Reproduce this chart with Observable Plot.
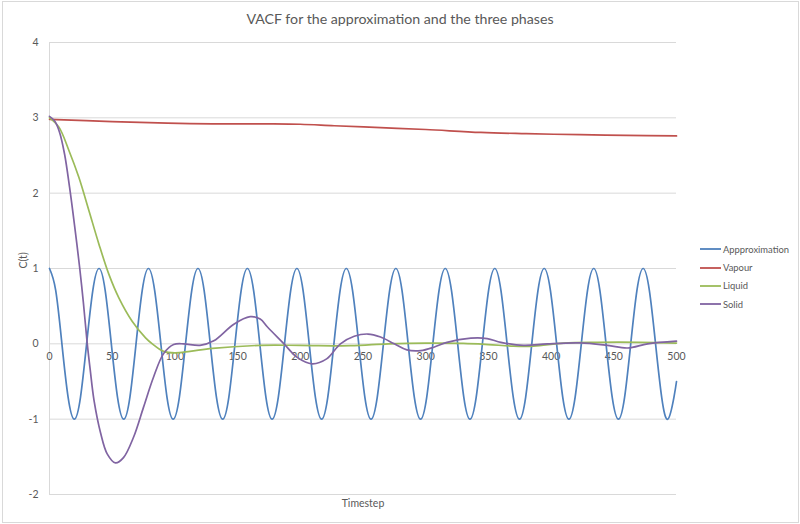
<!DOCTYPE html>
<html>
<head>
<meta charset="utf-8">
<script src="https://cdn.jsdelivr.net/npm/d3@7"></script>
<script src="https://cdn.jsdelivr.net/npm/@observablehq/plot@0.6"></script>
<style>
  html, body { margin: 0; padding: 0; background: #fff; }
  #wrap { position: relative; width: 800px; height: 524px; font-family: Lato, "Open Sans", sans-serif; color: #595959; }
  #border { position: absolute; left: 2px; top: 1px; width: 797px; height: 522px; box-sizing: border-box; border: 1px solid #d9d9d9; pointer-events: none; }
  #title { position: absolute; left: 0; top: 9px; width: 800px; text-align: center; font-size: 14.2px; line-height: 20px; }
  #legend { position: absolute; left: 700px; top: 240px; font-size: 9.4px; }
  #legend .row { height: 18.4px; display: flex; align-items: center; }
  #legend svg { width: 21px; height: 4px; margin-right: 2px; }
</style>
</head>
<body>
<div id="wrap">
  <div id="chart"></div>
  <div id="title">VACF for the approximation and the three phases</div>
  <div id="legend"></div>
  <div id="border"></div>
</div>
<script>
// ---- data ----
const seriesNames = ["Appproximation", "Vapour", "Liquid", "Solid"];
const seriesColors = ["#4F81BD", "#C0504D", "#9BBB59", "#8064A2"];

const xTicks = [0, 50, 100, 150, 200, 250, 300, 350, 400, 450, 500];
const yTicks = [-2, -1, 0, 1, 2, 3, 4];

// Approximation: peaks, troughs, zero crossings and the points half-way between them
const approxT = [
  0, 4.95, 9.9, 14.85, 19.8, 24.7, 29.6, 34.55,
  39.5, 44.4, 49.3, 54.25, 59.2, 64.1, 69, 73.95,
  78.9, 83.85, 88.8, 93.7, 98.6, 103.55, 108.5, 113.45,
  118.4, 123.3, 128.2, 133.15, 138.1, 143, 147.9, 152.85,
  157.8, 162.75, 167.7, 172.6, 177.5, 182.45, 187.4, 192.35,
  197.3, 202.2, 207.1, 212.05, 217, 221.9, 226.8, 231.75,
  236.7, 241.65, 246.6, 251.5, 256.4, 261.35, 266.3, 271.25,
  276.2, 281.1, 286, 290.95, 295.9, 300.8, 305.7, 310.65,
  315.6, 320.55, 325.5, 330.4, 335.3, 340.25, 345.2, 350.15,
  355.1, 360, 364.9, 369.85, 374.8, 379.7, 384.6, 389.55,
  394.5, 399.45, 404.4, 409.3, 414.2, 419.15, 424.1, 429.05,
  434, 438.9, 443.8, 448.75, 453.7, 458.6, 463.5, 468.45,
  473.4, 478.35, 483.3, 488.2, 493.1, 497.95, 500];
const approxC = [
  1, 0.71, 0, -0.71, -1, -0.71, 0, 0.71,
  1, 0.71, 0, -0.71, -1, -0.71, 0, 0.71,
  1, 0.71, 0, -0.71, -1, -0.71, 0, 0.71,
  1, 0.71, 0, -0.71, -1, -0.71, 0, 0.71,
  1, 0.71, 0, -0.71, -1, -0.71, 0, 0.71,
  1, 0.71, 0, -0.71, -1, -0.71, 0, 0.71,
  1, 0.71, 0, -0.71, -1, -0.71, 0, 0.71,
  1, 0.71, 0, -0.71, -1, -0.71, 0, 0.71,
  1, 0.71, 0, -0.71, -1, -0.71, 0, 0.71,
  1, 0.71, 0, -0.71, -1, -0.71, 0, 0.71,
  1, 0.71, 0, -0.71, -1, -0.71, 0, 0.71,
  1, 0.71, 0, -0.71, -1, -0.71, 0, 0.71,
  1, 0.71, 0, -0.71, -1, -0.71, -0.5];

const vapourT = [0, 50, 94, 130, 174, 200, 227, 264, 300, 344, 380, 423, 460, 500];
const vapourC = [2.98, 2.95, 2.93, 2.92, 2.92, 2.915, 2.895, 2.87, 2.845, 2.806, 2.79, 2.776, 2.768, 2.76];

const liquidT = [0, 7.4, 15.4, 23.4, 31.4, 39.3, 47.3, 55.3, 65.9, 76.6, 82, 91, 100, 112, 130, 168, 200, 240, 270, 300, 330, 350, 370, 386, 410, 437, 471, 500];
const liquidC = [3.0, 2.88, 2.57, 2.21, 1.77, 1.33, 0.925, 0.61, 0.30, 0.08, 0, -0.1, -0.12, -0.1, -0.06, -0.02, -0.02, -0.025, 0, 0.01, 0.005, -0.01, -0.03, -0.03, 0.01, 0.02, 0.02, 0.01];

const solidT = [0, 4, 8, 12, 16, 20, 24, 27, 30, 32.5, 35.5, 40.7, 46, 52.6, 59, 67, 75, 83, 91, 99, 107, 120, 131, 147, 160, 168, 174, 187, 197.5, 209.5, 221, 232, 243, 254, 264, 275, 285, 296, 306.5, 317, 336, 349, 360, 378, 397, 423, 445, 461, 477, 500];
const solidC = [3.02, 2.96, 2.81, 2.52, 2.08, 1.57, 1.02, 0.55, 0.02, -0.35, -0.75, -1.18, -1.46, -1.58, -1.51, -1.24, -0.84, -0.44, -0.13, -0.01, 0.0, -0.02, 0.04, 0.26, 0.36, 0.33, 0.22, 0, -0.18, -0.265, -0.2, 0, 0.1, 0.13, 0.09, 0, -0.08, -0.09, -0.045, 0.02, 0.075, 0.07, 0.02, -0.02, 0, 0.013, -0.02, -0.055, 0, 0.035];

// ---- build tables ----
const toRows = (ts, cs) => ts.map((t, i) => ({t, c: cs[i]}));
const approx = toRows(approxT, approxC);
const vapour = toRows(vapourT, vapourC);
const liquid = toRows(liquidT, liquidC);
const solid = toRows(solidT, solidC);

const lineOpts = (color, curve) => ({x: "t", y: "c", stroke: color, strokeWidth: 1.7, curve});

const chart = Plot.plot({
  width: 800,
  height: 524,
  marginLeft: 49,
  marginRight: 124,
  marginTop: 42,
  marginBottom: 30,
  style: {fontFamily: "Lato, 'Open Sans', sans-serif", fontSize: "10.5px", color: "#595959", background: "transparent", overflow: "visible"},
  x: {domain: [0, 500], axis: null},
  y: {domain: [-2, 4], axis: null},
  marks: [
    Plot.gridY(yTicks, {stroke: "#d9d9d9", strokeOpacity: 1, strokeWidth: 1}),
    Plot.ruleX([0], {stroke: "#d9d9d9", strokeWidth: 1}),
    Plot.text(yTicks, {x: 0, y: d => d, text: d => String(d), textAnchor: "end", dx: -11, fill: "#595959"}),
    Plot.text(xTicks, {x: d => d, y: 0, text: d => String(d), dy: 13, fill: "#595959"}),
    Plot.text(["C(t)"], {frameAnchor: "left", rotate: -90, dx: -26, fill: "#595959"}),
    Plot.text(["Timestep"], {frameAnchor: "bottom", lineAnchor: "middle", dy: 9, fill: "#595959"}),
    Plot.line(approx, lineOpts(seriesColors[0], "natural")),
    Plot.line(vapour, lineOpts(seriesColors[1], "catmull-rom")),
    Plot.line(liquid, lineOpts(seriesColors[2], "catmull-rom")),
    Plot.line(solid, lineOpts(seriesColors[3], "catmull-rom"))
  ]
});
document.getElementById("chart").appendChild(chart);

// legend
const legend = document.getElementById("legend");
seriesNames.forEach((name, i) => {
  const row = document.createElement("div");
  row.className = "row";
  row.innerHTML = `<svg viewBox="0 0 21 4"><line x1="0" x2="21" y1="2" y2="2" stroke="${seriesColors[i]}" stroke-width="1.8"/></svg><span>${name}</span>`;
  legend.appendChild(row);
});
</script>
</body>
</html>
